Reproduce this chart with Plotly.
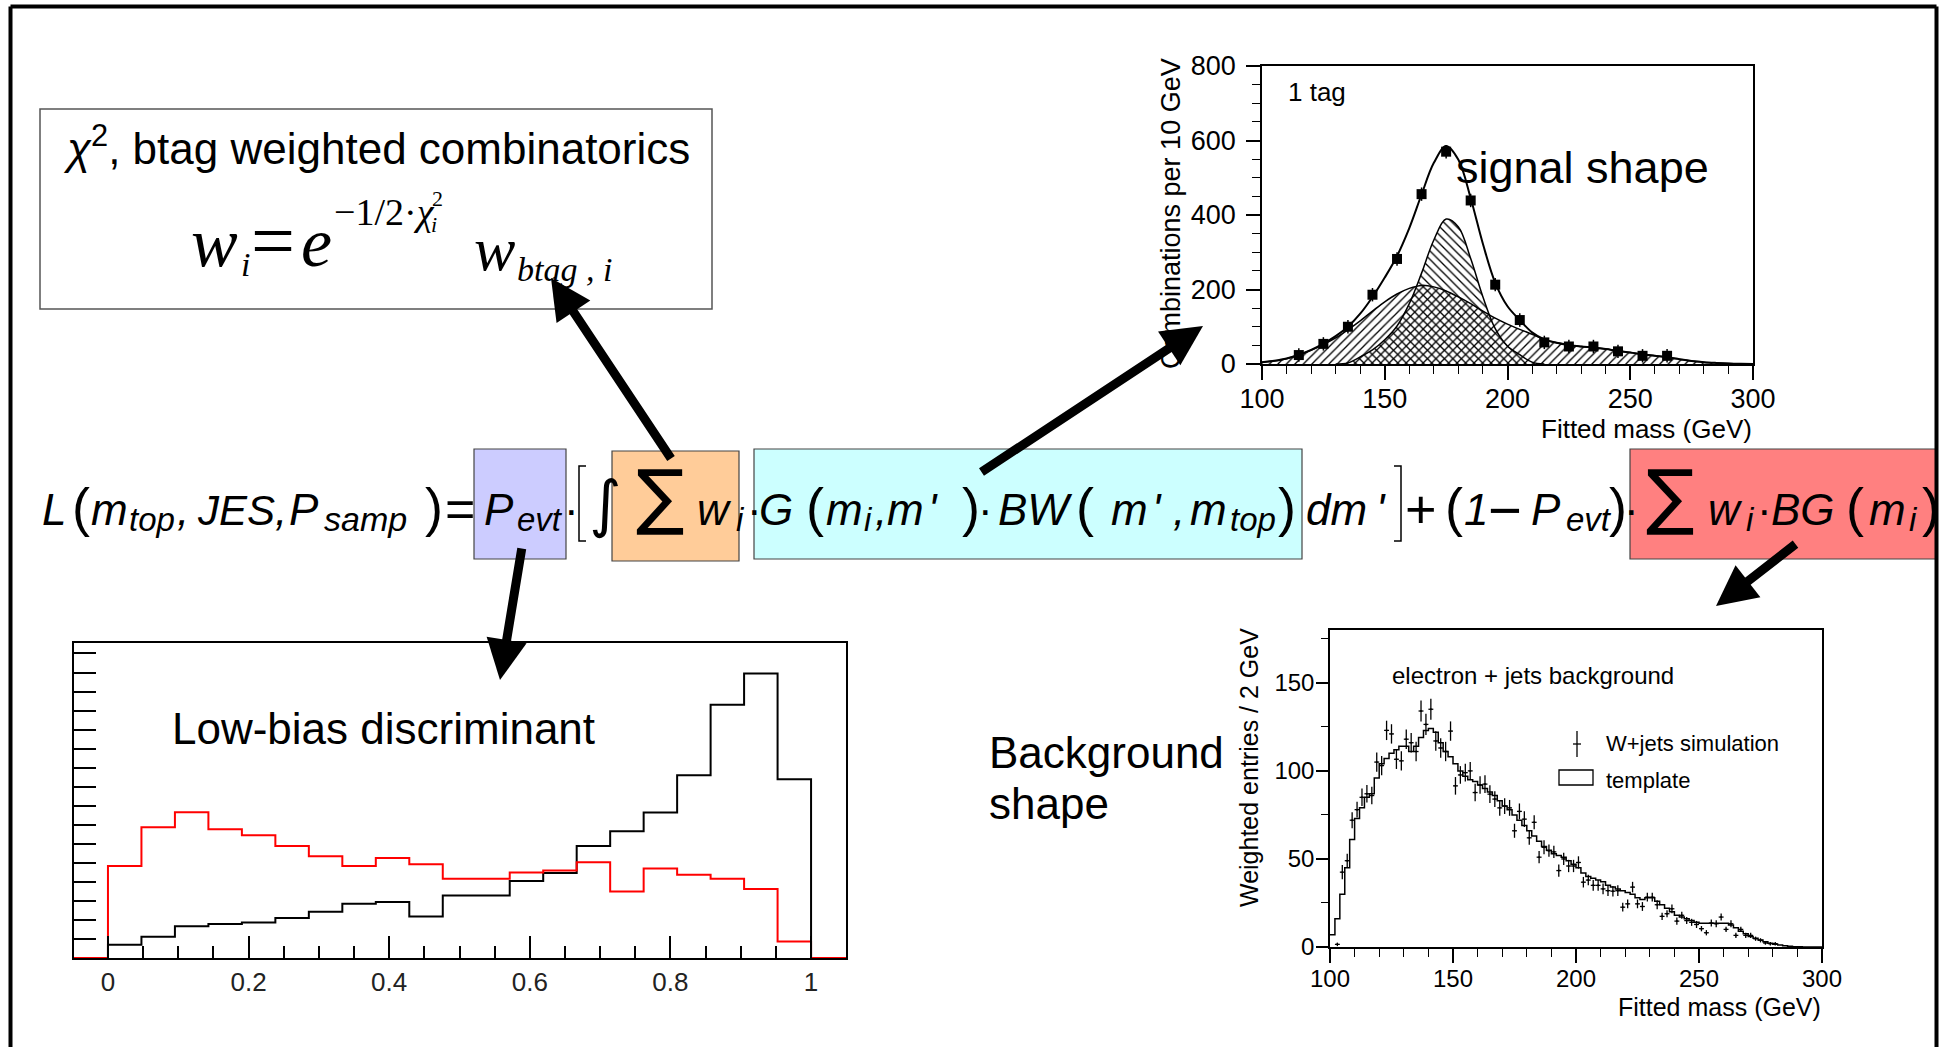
import plotly.graph_objects as go

W, H = 1950, 1047
SANS = "Liberation Sans"
SERIF = "Liberation Serif"
MATH = "DejaVu Sans"

# ---------------- data: signal shape (1 tag) ----------------
sig_points_x = [115, 125, 135, 145, 155, 165, 175, 185, 195, 205, 215, 225, 235, 245, 255, 265]
sig_points_y = [24, 54, 100, 186, 282, 456, 570, 439, 213, 118, 58, 47, 47, 34, 22, 22]
sig_curve_x = list(range(100, 301, 5))
sig_total = [5, 9, 15, 25, 38, 55, 75, 100, 135, 180,
             232, 290, 365, 455, 540, 585, 548, 445, 322, 218,
             155, 118, 85, 66, 57, 51, 47, 44, 40, 35,
             31, 26, 22, 18, 13, 8, 5, 3, 1.5, 0.5,
             0]
sig_broad = [5, 8, 14, 24, 37, 52, 70, 92, 116, 142,
             167, 188, 203, 211, 207, 196, 180, 162, 142, 123,
             107, 93, 80, 66, 57, 51, 47, 44, 40, 35,
             31, 26, 22, 18, 13, 8, 5, 3, 1.5, 0.5,
             0]
sig_narrow_x = list(range(130, 216, 5))
sig_narrow = [0, 3, 19, 38, 65, 102, 162, 244, 333, 389, 368, 283, 180, 95, 48, 25, 5, 0]

# ---------------- data: background shape ----------------
bkg_edges = list(range(100, 302, 2))
bkg_template = [7, 16, 30, 45, 61, 73, 79, 85, 87, 96,
                104, 107, 110, 112, 114, 114, 111, 114, 119, 123,
                124, 122, 116, 111, 108, 104, 100, 97, 95, 94,
                92, 90, 88, 86, 83, 80, 78, 75, 72, 69,
                66, 63, 60, 57, 55, 53, 52, 51, 49, 47,
                45, 42, 40, 39, 38, 37, 35, 34, 33, 32,
                31, 30, 28, 27, 28, 28, 26, 24, 22, 20,
                18, 17, 16, 15, 14, 13.5, 13.5, 13.5, 13.5, 13.5,
                13.5, 12.5, 11, 9, 7.5, 6, 5, 4, 3, 2.2,
                1.6, 1.1, 0.7, 0.4, 0.2, 0.1, 0, 0, 0, 0]
bkg_data_x = list(range(103, 283, 2))
bkg_data_y = [1.5, 42.5, 49, 72, 78, 85, 87, 86, 105, 103,
              123, 121, 106.6, 105.7, 118, 116, 111, 134, 126.4, 135,
              117, 113, 111, 122.6, 91.5, 97.7, 99, 100, 87.7, 92,
              92.5, 86.8, 84, 79, 80, 79, 66, 77, 72.6, 62,
              70.8, 51, 56.6, 54.7, 54, 43.4, 50, 46, 46, 48,
              36.8, 38, 35, 35, 33, 32, 31.7, 32, 22.6, 24.5,
              34, 24.5, 23, 28.3, 28.3, 24, 17.4, 18.9, 21.7, 14.7,
              18, 15, 14, 12.8, 10.4, 8.1, 13.6, 13.2, 17, 10,
              13.2, 6.6, 10, 6.6, 6.6, 4.7, 3.8, 2.3, 1.9, 1.9]
bkg_data_err = [1, 4, 4, 4.5, 4.5, 5, 5, 5, 5.5, 5.5,
                5.5, 5.5, 5.5, 5.5, 5.5, 5.5, 5.5, 6, 6, 6,
                5.5, 5.5, 5.5, 5.5, 5, 5, 5, 5, 5, 5,
                5, 5, 4.5, 4.5, 4.5, 4.5, 4, 4.5, 4.5, 4,
                4, 3.5, 4, 3.5, 3.5, 3.5, 3.5, 3.5, 3.5, 3.5,
                3, 3, 3, 3, 3, 3, 3, 3, 2.5, 2.5,
                3, 2.5, 2.5, 2.5, 2.5, 2.5, 2, 2, 2.5, 2,
                2, 2, 2, 2, 1.5, 1.5, 2, 2, 2, 1.5,
                2, 1.5, 1.5, 1.5, 1.5, 1.2, 1.2, 1, 1, 1]

# ---------------- data: low-bias discriminant ----------------
disc_edges = [i / 21 for i in range(22)]
disc_black = [0.69, 1.12, 1.67, 1.78, 1.87, 2.10, 2.43, 2.85, 2.94, 2.18, 3.29,
              3.29, 4.05, 4.47, 5.89, 6.66, 7.65, 9.60, 13.30, 14.95, 9.39]
disc_red = [4.83, 6.87, 7.66, 6.77, 6.45, 5.89, 5.35, 4.83, 5.25, 4.93, 4.16,
            4.16, 4.49, 4.60, 5.03, 3.50, 4.70, 4.37, 4.16, 3.62, 0.87]
disc_tick_vals = [0, 0.2, 0.4, 0.6, 0.8, 1.0]
disc_tick_text = ["0", "0.2", "0.4", "0.6", "0.8", "1"]


def dom_x(p0, p1):
    return [p0 / W, p1 / W]


def dom_y(top, bot):
    return [1 - bot / H, 1 - top / H]


fig = go.Figure()

# invisible canvas trace (pixel coordinate system)
fig.add_trace(go.Scatter(x=[0, W], y=[0, H], mode="markers", marker=dict(opacity=0),
                         hoverinfo="skip", showlegend=False, xaxis="x", yaxis="y"))

# ---- signal plot ----
fig.add_trace(go.Scatter(x=sig_curve_x, y=sig_broad, mode="lines", line=dict(color="black", width=1.5, shape="spline"),
                         fill="tozeroy", fillcolor="rgba(0,0,0,0)",
                         fillpattern=dict(shape="/", fgcolor="black", bgcolor="rgba(0,0,0,0)", size=6, solidity=0.22),
                         xaxis="x2", yaxis="y2", showlegend=False))
fig.add_trace(go.Scatter(x=sig_narrow_x, y=sig_narrow, mode="lines", line=dict(color="black", width=1.5, shape="spline"),
                         fill="tozeroy", fillcolor="rgba(0,0,0,0)",
                         fillpattern=dict(shape="\\", fgcolor="black", bgcolor="rgba(0,0,0,0)", size=6, solidity=0.22),
                         xaxis="x2", yaxis="y2", showlegend=False))
fig.add_trace(go.Scatter(x=sig_curve_x, y=sig_total, mode="lines", line=dict(color="black", width=2, shape="spline"),
                         xaxis="x2", yaxis="y2", showlegend=False))
fig.add_trace(go.Scatter(x=sig_points_x, y=sig_points_y, mode="markers",
                         marker=dict(symbol="square", size=10, color="black"),
                         error_y=dict(type="constant", value=18, width=0, color="black", thickness=1.5),
                         xaxis="x2", yaxis="y2", showlegend=False))

# ---- background plot ----
fig.add_trace(go.Scatter(x=bkg_edges, y=bkg_template + [bkg_template[-1]], mode="lines",
                         line=dict(color="black", width=1.5, shape="hv"),
                         xaxis="x3", yaxis="y3", showlegend=False))
fig.add_trace(go.Scatter(x=bkg_data_x, y=bkg_data_y, mode="markers",
                         marker=dict(size=2, color="black"),
                         error_y=dict(type="data", array=bkg_data_err, width=0, color="black", thickness=1.3),
                         error_x=dict(type="constant", value=1, width=0, color="black", thickness=1.3),
                         xaxis="x3", yaxis="y3", showlegend=False))

# ---- discriminant plot ----
x_lo, x_hi = -0.0483, 1.0497
fig.add_trace(go.Scatter(x=[0] + disc_edges[:-1] + [1], y=[0] + disc_black + [0], mode="lines",
                         line=dict(color="black", width=2, shape="hv"),
                         xaxis="x4", yaxis="y4", showlegend=False))
fig.add_trace(go.Scatter(x=[x_lo] + disc_edges[:-1] + [1, x_hi], y=[0] + disc_red + [0, 0], mode="lines",
                         line=dict(color="#ff0000", width=2, shape="hv"),
                         xaxis="x4", yaxis="y4", showlegend=False))

axis_common = dict(showline=True, linecolor="black", linewidth=1.5, mirror=True, showgrid=False,
                   zeroline=False, tickcolor="black", tickwidth=1.5, automargin=False,
                   fixedrange=True)

layout = dict(
    width=W, height=H, margin=dict(l=0, r=0, t=0, b=0), autosize=False,
    paper_bgcolor="white", plot_bgcolor="rgba(0,0,0,0)", template="none",
    showlegend=False,
    xaxis=dict(range=[0, W], domain=[0, 1], visible=False, fixedrange=True, anchor="y"),
    yaxis=dict(range=[H, 0], domain=[0, 1], visible=False, fixedrange=True, anchor="x"),
    xaxis2=dict(axis_common, domain=dom_x(1262, 1753), range=[100, 300], anchor="y2",
                ticks="outside", tick0=100, dtick=50, ticklen=14, ticklabelstandoff=-4,
                minor=dict(dtick=10, tick0=100, ticklen=8, ticks="outside", tickcolor="black", tickwidth=1.2),
                tickfont=dict(family=SANS, size=27, color="black")),
    yaxis2=dict(axis_common, domain=dom_y(66, 364), range=[0, 800], anchor="x2",
                ticks="outside", tick0=0, dtick=200, ticklen=14, ticklabelstandoff=5,
                minor=dict(dtick=50, tick0=0, ticklen=8, ticks="outside", tickcolor="black", tickwidth=1.2),
                tickfont=dict(family=SANS, size=27, color="black")),
    xaxis3=dict(axis_common, domain=dom_x(1330, 1822), range=[100, 300], anchor="y3",
                ticks="outside", tick0=100, dtick=50, ticklen=14, ticklabelstandoff=-5,
                minor=dict(dtick=10, tick0=100, ticklen=8, ticks="outside", tickcolor="black", tickwidth=1.2),
                tickfont=dict(family=SANS, size=24, color="black")),
    yaxis3=dict(axis_common, domain=dom_y(630, 947), range=[0, 180], anchor="x3",
                ticks="outside", tick0=0, dtick=50, ticklen=12, ticklabelstandoff=-3,
                minor=dict(dtick=25, tick0=0, ticklen=7, ticks="outside", tickcolor="black", tickwidth=1.2),
                tickfont=dict(family=SANS, size=24, color="black")),
    xaxis4=dict(axis_common, domain=dom_x(74, 846), range=[x_lo, x_hi], anchor="y4",
                ticks="inside", tickvals=disc_tick_vals, ticktext=disc_tick_text, ticklen=22,
                minor=dict(dtick=0.05, tick0=0, ticklen=12, ticks="inside", tickcolor="black", tickwidth=1.5),
                tickfont=dict(family=SANS, size=26, color="#222")),
    yaxis4=dict(axis_common, domain=dom_y(643, 958), range=[0, 16.55], anchor="x4",
                ticks="inside", tick0=0, dtick=1, ticklen=22, showticklabels=False),
)
fig.update_layout(**layout)

shapes = []
# outer frame
for (x0, y0, x1, y1) in [(10.5, 6.5, 10.5, H), (10.5, 6.5, 1936.5, 6.5), (1936.5, 6.5, 1936.5, H)]:
    shapes.append(dict(type="line", xref="x", yref="y", x0=x0, y0=y0, x1=x1, y1=y1,
                       line=dict(color="black", width=4)))
# top-left box
shapes.append(dict(type="rect", xref="x", yref="y", x0=40, x1=712, y0=109, y1=309,
                   line=dict(color="#555", width=1.5), fillcolor="rgba(0,0,0,0)", layer="below"))
# coloured highlight boxes
for (x0, x1, y0, y1, c) in [(474, 566, 449, 559, "#ccccff"), (612, 739, 451, 561, "#ffcc99"),
                            (754, 1302, 449, 559, "#ccffff"), (1630, 1937, 449, 559, "#ff8080")]:
    shapes.append(dict(type="rect", xref="x", yref="y", x0=x0, x1=x1, y0=y0, y1=y1,
                       line=dict(color="#444", width=1.2), fillcolor=c, layer="below"))
# brackets
shapes.append(dict(type="path", xref="x", yref="y", path="M 586,466 L 579,466 L 579,541 L 586,541",
                   line=dict(color="black", width=1.5)))
shapes.append(dict(type="path", xref="x", yref="y", path="M 1394,466 L 1401,466 L 1401,541 L 1394,541",
                   line=dict(color="black", width=1.5)))
# background legend symbols
shapes.append(dict(type="line", xref="x", yref="y", x0=1577, x1=1577, y0=731, y1=757, line=dict(color="black", width=1.3)))
shapes.append(dict(type="line", xref="x", yref="y", x0=1573, x1=1581, y0=744, y1=744, line=dict(color="black", width=1.3)))
shapes.append(dict(type="rect", xref="x", yref="y", x0=1559, x1=1593, y0=770, y1=785, line=dict(color="black", width=1.3)))

anns = []


def T(x, y, s, size, family=SANS, xanchor="left", yanchor="middle", angle=0, color="black"):
    anns.append(dict(x=x, y=y, xref="x", yref="y", text=s, showarrow=False, xanchor=xanchor,
                     yanchor=yanchor, textangle=angle, borderpad=0,
                     font=dict(family=family, size=size, color=color)))


# top-left box text
T(376, 145, "<i>χ</i><sup>2</sup>, btag weighted combinatorics", 44, xanchor="center")
T(190, 242, "<i>w</i>", 70, family=SERIF)
T(240, 264, "<i>i</i>", 34, family=SERIF)
T(250, 240, "=", 78, family=SERIF)
T(300, 242, "<i>e</i>", 70, family=SERIF)
T(333, 212, "−1/2·<i>χ</i>", 38, family=SERIF)
T(431, 198, "2", 22, family=SERIF)
T(430, 224, "<i>i</i>", 22, family=SERIF)
T(473, 249, "<i>w</i>", 62, family=SERIF)
T(516, 269, "<i>btag , i</i>", 34, family=SERIF)

# main likelihood equation
M, S, P = 44, 33, 54
YM, YS, YP = 509, 519, 507
eq = [
    (41, "<i>L</i>", M, YM), (71, "(", P, YP), (90, "<i>m</i>", M, YM), (128, "<i>top</i>", S, YS),
    (176, "<i>,</i>", M, YM), (196, "<i>JES</i>", 42, YM + 1), (274, "<i>,</i>", M, YM),
    (288, "<i>P</i>", M, YM), (323, "<i>samp</i>", 34, YS), (424, ")", P, YP), (444, "=", 52, YM),
    (483, "<i>P</i>", M, YM), (516, "<i>evt</i>", S, YS), (563, "·", M, YM),
    (696, "<i>w</i>", M, YM), (735, "<i>i</i>", S, YS), (746, "·", M, YM),
    (758, "<i>G</i>", M, YM), (805, "(", P, YP), (825, "<i>m</i>", M, YM), (863, "<i>i</i>", S, YS),
    (874, "<i>,</i>", M, YM), (886, "<i>m</i>", M, YM), (927, "<i>'</i>", M, YM), (961, ")", P, YP),
    (977, "·", M, YM), (997, "<i>BW</i>", M, YM), (1075, "(", P, YP), (1110, "<i>m</i>", M, YM),
    (1151, "<i>'</i>", M, YM), (1172, "<i>,</i>", M, YM), (1189, "<i>m</i>", M, YM),
    (1229, "<i>top</i>", S, YS), (1277, ")", P, YP), (1305, "<i>dm</i>", M, YM), (1375, "<i>'</i>", M, YM),
    (1404, "+", 54, YM), (1444, "(", P, YP), (1463, "<i>1</i>", M, YM), (1487, "−", 58, YM),
    (1530, "<i>P</i>", M, YM), (1565, "<i>evt</i>", S, YS), (1608, ")", P, YP), (1623, "·", M, YM),
    (1707, "<i>w</i>", M, YM), (1745, "<i>i</i>", S, YS), (1756, "·", M, YM), (1770, "<i>BG</i>", M, YM),
    (1845, "(", P, YP), (1868, "<i>m</i>", M, YM), (1908, "<i>i</i>", S, YS), (1921, ")", P, YP),
]
for (x, s, size, y) in eq:
    T(x, y, s, size)
T(605, 503, "∫", 62, family=MATH, xanchor="center")
T(660, 496, "∑", 72, family=MATH, xanchor="center")
T(1670, 496, "∑", 72, family=MATH, xanchor="center")

# signal plot texts
T(1287, 92, "1 tag", 26)
T(1455, 167, "signal shape", 45)
T(1171, 214, "Combinations per 10 GeV", 27, xanchor="center", angle=-90)
T(1753, 429, "Fitted mass (GeV)", 26, xanchor="right")

# background plot texts
T(1391, 675, "electron + jets background", 24)
T(1605, 743, "W+jets simulation", 22)
T(1605, 780, "template", 22)
T(1249, 768, "Weighted entries / 2 GeV", 25, xanchor="center", angle=-90)
T(1822, 1007, "Fitted mass (GeV)", 25, xanchor="right")
T(988, 752, "Background", 44)
T(988, 803, "shape", 44)

# discriminant plot text
T(171, 728, "Low-bias discriminant", 44)

# arrows (tip, tail)
arrows = [((551, 278), (672, 460)), ((1203, 326), (980, 473)),
          ((500, 680), (522, 547)), ((1716, 606), (1797, 543))]
for (tip, tail) in arrows:
    anns.append(dict(x=tip[0], y=tip[1], ax=tail[0], ay=tail[1], xref="x", yref="y", axref="x", ayref="y",
                     text="", showarrow=True, arrowhead=2, arrowsize=0.9, arrowwidth=9, arrowcolor="black",
                     standoff=0, startstandoff=0))

fig.update_layout(shapes=shapes, annotations=anns)
fig.write_html("out.html")
